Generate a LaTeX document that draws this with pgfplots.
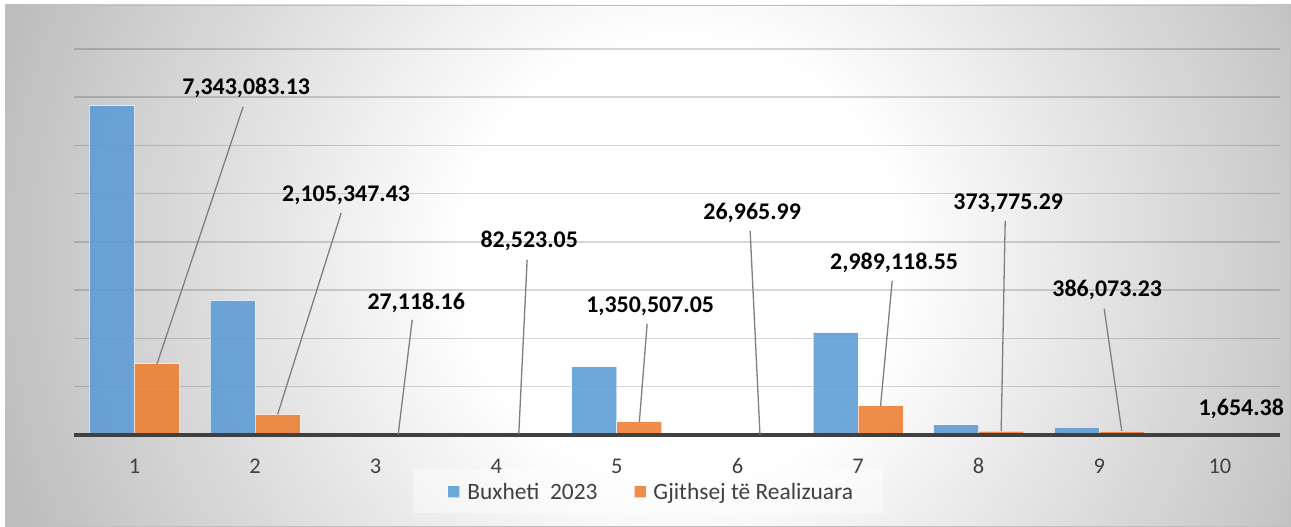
\documentclass[border=0pt]{standalone}
\usepackage{pgfplots}
\pgfplotsset{compat=1.18}
\usepackage{fontspec}
\setmainfont{Carlito}
\definecolor{bggray}{HTML}{BEBEBE}
\definecolor{barblue}{HTML}{5B9BD5}
\definecolor{barorange}{HTML}{ED7D31}
\definecolor{axisgray}{HTML}{404040}
\definecolor{textgray}{HTML}{404040}
\definecolor{leadergray}{HTML}{7F7F7F}
\pgfdeclareradialshading{bgshade}{\pgfpoint{0bp}{0bp}}{color(0bp)=(white); color(7.5bp)=(white); color(24bp)=(bggray); color(50bp)=(bggray)}
\tikzset{
  lbl/.style={font=\bfseries\fontsize{24}{28}\selectfont, text=black, inner sep=0pt, anchor=center},
  ldr/.style={leadergray, line width=1.3bp},
}
\begin{document}
\begin{tikzpicture}[x=1bp,y=1bp]
\useasboundingbox (0,0) rectangle (1291,527);
\fill[bggray] (5,0) rectangle (1291,522);
\begin{scope}
\clip (5,0) rectangle (1291,522);
\shade[shading=bgshade] (680,267) circle (730);
\end{scope}
\draw[color=black!25, line width=1bp] (5.5,0.5) rectangle (1290.5,521.5);
\fill[white, opacity=0.45] (413,14) rectangle (883,58);
\begin{axis}[
  at={(61.5,95.5)}, anchor=south west,
  scale only axis, width=1206bp, height=386bp,
  xmin=0.5, xmax=10.5, ymin=0, ymax=40000000,
  clip=false,
  xtick={1,2,3,4,5,6,7,8,9,10},
  xticklabels={1,2,3,4,5,6,7,8,9,10},
  ytick={5000000,10000000,15000000,20000000,25000000,30000000,35000000,40000000},
  yticklabels={},
  scaled y ticks=false,
  axis line style={draw=none},
  major tick length=0pt,
  tick style={draw=none},
  ymajorgrids,
  grid style={black, opacity=0.16, line width=1.5bp},
  xticklabel style={font=\fontsize{22.5}{26}\selectfont, text=textgray, anchor=base, yshift=-39bp},
  /pgf/number format/assume math mode=true,
  ybar, bar width=45bp,
  legend image code/.code={\fill[#1] (0bp,-6bp) rectangle (12bp,6bp);},
  legend style={at={(0.4785,-0.1477)}, anchor=center, draw=none, fill=none,
    legend columns=2, font=\fontsize{23.5}{27}\selectfont, text=textgray,
    /tikz/every odd column/.append style={column sep=5bp},
    /tikz/every even column/.append style={column sep=34bp}},
]
\addplot[fill=barblue, fill opacity=0.88, draw=white, draw opacity=0.6, line width=1bp, bar shift=-22.5bp]
  coordinates {(1,34100000) (2,13900000) (3,30000) (4,180000) (5,7050000) (6,30000) (7,10600000) (8,1030000) (9,780000) (10,2000)};
\addlegendentry{Buxheti~~2023}
\addplot[fill=barorange, fill opacity=0.88, draw=white, draw opacity=0.6, line width=1bp, bar shift=22.5bp]
  coordinates {(1,7343083.13) (2,2105347.43) (3,27118.16) (4,82523.05) (5,1350507.05) (6,26965.99) (7,2989118.55) (8,373775.29) (9,386073.23) (10,1654.38)};
\addlegendentry{Gjithsej të Realizuara}
\draw[axisgray, line width=4bp] (axis cs:0.5,0) -- (axis cs:10.5,0);
% leader lines
\draw[ldr] (axis cs:1.901,33990000) -- (axis cs:1.1866,7343083);
\draw[ldr] (axis cs:2.714,23000000) -- (axis cs:2.1866,2105347);
\draw[ldr] (axis cs:3.303,11920000) -- (axis cs:3.1866,27118);
\draw[ldr] (axis cs:4.256,18130000) -- (axis cs:4.1866,82523);
\draw[ldr] (axis cs:5.251,11500000) -- (axis cs:5.1866,1350507);
\draw[ldr] (axis cs:6.105,21140000) -- (axis cs:6.1866,26966);
\draw[ldr] (axis cs:7.283,15960000) -- (axis cs:7.1866,2989119);
\draw[ldr] (axis cs:8.220,22180000) -- (axis cs:8.1866,373775);
\draw[ldr] (axis cs:9.041,13060000) -- (axis cs:9.1866,386073);
% data labels
\node[lbl] at (axis cs:1.926,35910000) {7,343,083.13};
\node[lbl] at (axis cs:2.755,24820000) {2,105,347.43};
\node[lbl] at (axis cs:3.336,13630000) {27,118.16};
\node[lbl] at (axis cs:4.273,20050000) {82,523.05};
\node[lbl] at (axis cs:5.276,13320000) {1,350,507.05};
\node[lbl] at (axis cs:6.122,22950000) {26,965.99};
\node[lbl] at (axis cs:7.299,17770000) {2,989,118.55};
\node[lbl] at (axis cs:8.245,24040000) {373,775.29};
\node[lbl] at (axis cs:9.066,15030000) {386,073.23};
\node[lbl] at (axis cs:10.177,2690000) {1,654.38};
\end{axis}
\end{tikzpicture}
\end{document}
